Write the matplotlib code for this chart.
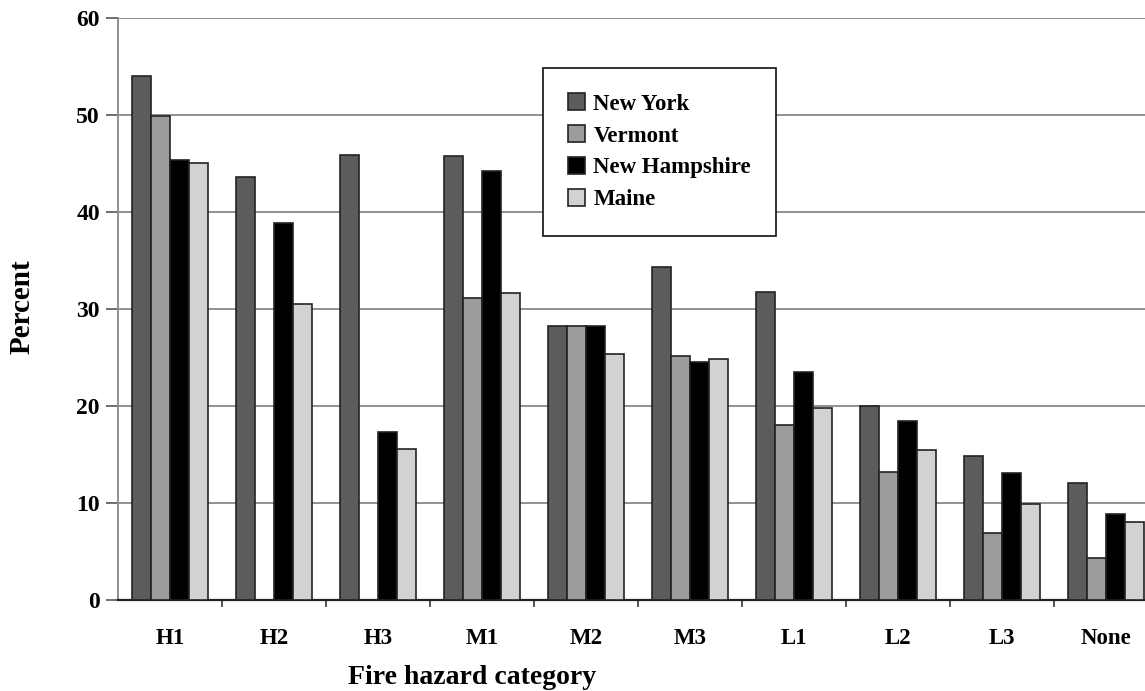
import matplotlib.pyplot as plt
import numpy as np

categories = ["H1", "H2", "H3", "M1", "M2", "M3", "L1", "L2", "L3", "None"]
states = ["New York", "Vermont", "New Hampshire", "Maine"]
new_york = [54.0, 43.6, 45.9, 45.8, 28.2, 34.3, 31.8, 20.0, 14.8, 12.1]
vermont = [49.9, 0, 0, 31.1, 28.2, 25.2, 18.0, 13.2, 6.9, 4.3]
new_hampshire = [45.4, 38.9, 17.3, 44.2, 28.2, 24.5, 23.5, 18.5, 13.1, 8.9]
maine = [45.0, 30.5, 15.6, 31.7, 25.4, 24.8, 19.8, 15.5, 9.9, 8.0]
colors = ["#5c5c5c", "#9c9c9c", "#000000", "#d2d2d2"]

plt.rcParams["font.family"] = "Liberation Serif"
plt.rcParams["font.weight"] = "bold"

fig = plt.figure(figsize=(11.45, 6.91), dpi=100)
ax = fig.add_axes([118/1145, 91/691, 1040/1145, 582/691])

x = np.arange(len(categories))
w = 0.183
series = [new_york, vermont, new_hampshire, maine]
for i in range(4):
    ax.bar(x + (i - 1.5)*w, series[i], w, color=colors[i],
           edgecolor="#222222", linewidth=1.2, label=states[i], zorder=3)

ax.set_xlim(-0.5, len(categories) - 0.5)
ax.set_ylim(0, 60)
ax.set_yticks(range(0, 61, 10))
ax.yaxis.grid(True, color="#888888", linewidth=1.3, zorder=0)
ax.set_xticks(x)
ax.set_xticklabels(categories, fontsize=16.5, fontweight="bold")
ax.set_xticks(np.arange(0.5, len(categories) - 0.5, 1), minor=True)
ax.tick_params(axis="x", which="major", length=0, pad=20)
ax.tick_params(axis="x", which="minor", length=5, width=1.2, color="#333333")
ax.tick_params(axis="y", length=9, width=1.2, color="#555555", labelsize=17, pad=4)
for lab in ax.get_yticklabels():
    lab.set_fontweight("bold")

ax.spines["top"].set_visible(False)
ax.spines["right"].set_visible(False)
ax.spines["left"].set_color("#888888")
ax.spines["left"].set_linewidth(1.3)
ax.spines["bottom"].set_color("#222222")
ax.spines["bottom"].set_linewidth(1.6)

fig.text(472/1145, 1 - 677/691, "Fire hazard category", fontsize=20,
         fontweight="bold", ha="center", va="center")
fig.text(22/1145, 1 - 307/691, "Percent", fontsize=21, fontweight="bold",
         rotation=90, ha="center", va="center")

leg = ax.legend(loc="upper left", bbox_to_anchor=(543/1145, 1 - 68/691),
                bbox_transform=fig.transFigure, borderaxespad=0,
                fancybox=False, framealpha=1, edgecolor="#222222",
                prop={"size": 16.5, "weight": "bold"}, borderpad=1.1,
                labelspacing=0.46, handlelength=0.75, handleheight=0.75,
                handletextpad=0.35)
leg.get_frame().set_linewidth(1.3)
leg.set_zorder(5)

fig.savefig("out.png", dpi=100)
